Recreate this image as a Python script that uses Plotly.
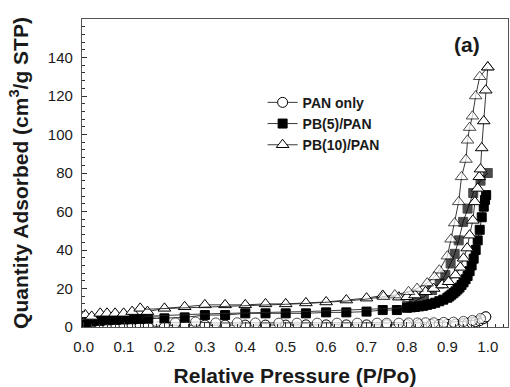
import plotly.graph_objects as go

# ---------------- data ----------------
pan_ads_x = [0.005, 0.02, 0.04, 0.06, 0.08, 0.10, 0.12, 0.14, 0.16, 0.20, 0.25, 0.30, 0.35, 0.40,
             0.45, 0.50, 0.55, 0.60, 0.65, 0.70, 0.75, 0.80, 0.83, 0.86, 0.88, 0.90, 0.92, 0.94,
             0.95, 0.96, 0.97, 0.98, 0.99, 0.995]
pan_ads_y = [0.3, 0.5, 0.6, 0.7, 0.7, 0.8, 0.8, 0.8, 0.9, 0.9, 0.9, 1.0, 1.0, 1.0,
             1.0, 1.0, 1.1, 1.1, 1.1, 1.1, 1.2, 1.2, 1.2, 1.3, 1.3, 1.4, 1.5, 1.7,
             1.9, 2.2, 2.7, 3.3, 4.3, 5.3]
pan_des_x = [0.995, 0.982, 0.962, 0.94, 0.915, 0.891, 0.866, 0.846, 0.826, 0.804, 0.78, 0.75,
             0.726, 0.677, 0.627, 0.578, 0.528, 0.483, 0.425, 0.38, 0.327, 0.277, 0.227, 0.18]
pan_des_y = [5.3, 4.4, 3.4, 2.9, 2.5, 2.4, 2.2, 2.2, 2.1, 2.1, 2.0, 2.0,
             2.0, 2.0, 2.0, 2.0, 2.0, 2.0, 2.1, 2.2, 2.1, 2.6, 2.2, 2.7]

pb5_ads_x = [0.005, 0.02, 0.04, 0.06, 0.08, 0.10, 0.12, 0.14, 0.16, 0.20, 0.25, 0.30, 0.35,
             0.40, 0.45, 0.50, 0.55, 0.60, 0.65, 0.70, 0.74, 0.775, 0.80, 0.81, 0.82, 0.83,
             0.84, 0.85, 0.86, 0.87, 0.88, 0.89, 0.90, 0.905, 0.91, 0.915, 0.92, 0.925, 0.93,
             0.935, 0.94, 0.945, 0.95, 0.955, 0.96, 0.965, 0.97, 0.975, 0.98, 0.985, 0.99,
             0.993, 0.996]
pb5_ads_y = [2.0, 2.8, 3.2, 3.5, 3.7, 3.9, 4.0, 4.2, 4.3, 4.5, 5.0, 6.2, 6.2,
             7.1, 7.1, 7.1, 7.1, 7.6, 7.6, 8.0, 8.8, 8.8, 10.0, 10.2, 10.4, 10.7,
             11.0, 11.5, 12.0, 12.6, 13.4, 14.2, 15.2, 15.9, 16.8, 17.6, 18.5, 19.5, 20.5,
             21.8, 23.2, 24.8, 26.5, 29.0, 32.0, 35.5, 40.0, 45.0, 50.5, 57.0, 62.5,
             66.0, 68.5]
pb5_des_x = [1.0, 0.982, 0.964, 0.95, 0.939, 0.928, 0.918, 0.908, 0.895, 0.881, 0.862, 0.842,
             0.817, 0.80, 0.775, 0.74, 0.70, 0.65, 0.60, 0.55, 0.50, 0.45, 0.40, 0.35, 0.30,
             0.25, 0.20, 0.15]
pb5_des_y = [80.0, 76.0, 69.6, 61.5, 54.6, 45.0, 38.0, 33.0, 27.0, 22.6, 19.2, 15.7,
             13.0, 11.0, 9.8, 9.5, 9.0, 8.6, 8.3, 8.0, 7.8, 7.6, 7.4, 7.0, 6.8,
             6.4, 6.0, 5.5]

pb10_ads_x = [0.004, 0.02, 0.041, 0.058, 0.078, 0.099, 0.12, 0.14, 0.158, 0.20, 0.25, 0.30,
              0.35, 0.40, 0.45, 0.50, 0.55, 0.60, 0.65, 0.70, 0.74, 0.78, 0.80, 0.82, 0.846,
              0.866, 0.887, 0.903, 0.92, 0.932, 0.94, 0.949, 0.955, 0.963, 0.968, 0.975,
              0.979, 0.982, 0.985, 0.99, 0.995, 1.0]
pb10_ads_y = [6.3, 5.5, 7.1, 7.1, 7.1, 7.1, 8.0, 9.7, 8.0, 9.7, 10.5, 11.5,
              11.5, 11.5, 12.0, 12.0, 12.5, 13.0, 14.0, 15.0, 16.4, 15.5, 15.7, 16.6, 18.3,
              20.0, 21.8, 23.5, 27.0, 31.0, 35.7, 41.0, 47.7, 55.4, 65.0, 72.0,
              78.0, 82.0, 93.0, 107.0, 123.0, 135.0]
pb10_des_x = [1.0, 0.98, 0.97, 0.962, 0.955, 0.95, 0.946, 0.935, 0.928, 0.918, 0.909, 0.90,
              0.88, 0.868, 0.85, 0.825, 0.804, 0.77, 0.742, 0.70, 0.65, 0.60, 0.55, 0.50,
              0.45, 0.40, 0.35, 0.30, 0.25, 0.20, 0.15]
pb10_des_y = [135.0, 130.0, 120.0, 109.5, 103.6, 97.0, 87.0, 78.0, 65.0, 54.0, 45.6, 36.8,
              29.5, 26.0, 22.8, 20.0, 18.3, 16.6, 15.7, 14.5, 13.5, 12.8, 12.2, 11.8,
              11.4, 11.0, 10.6, 10.3, 10.0, 9.6, 9.2]

x_ticks = [0.0, 0.1, 0.2, 0.3, 0.4, 0.5, 0.6, 0.7, 0.8, 0.9, 1.0]
y_ticks = [0, 20, 40, 60, 80, 100, 120, 140]

# ---------------- figure ----------------
fig = go.Figure()
LINE = dict(color="#222222", width=0.9)
MLINE = dict(color="black", width=1)


def add_series(name, xa, ya, xd, yd, symbol, fill, size, des_cut):
    fig.add_trace(go.Scatter(
        x=xa, y=ya, mode="lines+markers", name=name, legendgroup=name,
        line=LINE, marker=dict(symbol=symbol, size=size, color=fill, line=MLINE)))
    sizes = [size if x >= des_cut else 0 for x in xd]
    fig.add_trace(go.Scatter(
        x=xd, y=yd, mode="lines+markers", name=name, legendgroup=name, showlegend=False,
        line=LINE, marker=dict(symbol=symbol, size=sizes, color=fill, line=MLINE)))


add_series("PAN only", pan_ads_x, pan_ads_y, pan_des_x, pan_des_y, "circle", "white", 10, 0.0)
add_series("PB(5)/PAN", pb5_ads_x, pb5_ads_y, pb5_des_x, pb5_des_y, "square", "black", 9, 0.79)
add_series("PB(10)/PAN", pb10_ads_x, pb10_ads_y, pb10_des_x, pb10_des_y, "triangle-up", "white", 11, 0.73)

FONT = "Liberation Sans, Arial, sans-serif"
pw, ph = 510 - 82 - 2, 387 - 19 - 60
fig.update_layout(
    width=510, height=387,
    margin=dict(l=82, r=2, t=19, b=60),
    paper_bgcolor="white", plot_bgcolor="white",
    font=dict(family=FONT, color="#1a1a1a"),
    showlegend=True,
    legend=dict(x=0.424, y=0.78, xanchor="left", yanchor="top",
                font=dict(size=14, family=FONT, color="#1a1a1a", weight="bold"),
                bgcolor="rgba(0,0,0,0)", tracegroupgap=0, itemwidth=30),
    xaxis=dict(range=[-0.004, 1.05], tickmode="array", tickvals=x_ticks,
               ticktext=[f"{v:.1f}" for v in x_ticks], automargin=False,
               ticks="inside", ticklen=5, tickcolor="#333", tickwidth=1,
               minor=dict(ticks="inside", dtick=0.02, ticklen=3, tickcolor="#333"),
               showline=True, linecolor="#555", linewidth=1.2, mirror=True,
               showgrid=False, zeroline=False, ticklabelstandoff=6,
               tickfont=dict(size=15, family=FONT),
               title=dict(text="<b>Relative Pressure (P/Po)</b>", font=dict(size=21, family=FONT),
                          standoff=22)),
    yaxis=dict(range=[0, 160], tickmode="array", tickvals=y_ticks, automargin=False,
               ticks="inside", ticklen=5, tickcolor="#333", tickwidth=1,
               minor=dict(ticks="inside", dtick=4, ticklen=3, tickcolor="#333"),
               showline=True, linecolor="#555", linewidth=1.2, mirror=True,
               showgrid=False, zeroline=False, ticklabelstandoff=5,
               tickfont=dict(size=15, family=FONT),
               title=dict(text="<b>Quantity Adsorbed (cm<sup>3</sup>/g STP)</b>",
                          font=dict(size=21, family=FONT), standoff=13)),
    annotations=[dict(text="<b>(a)</b>", x=(467 - 82) / pw, y=(387 - 60 - 44) / ph,
                      xref="paper", yref="paper", xanchor="center", yanchor="middle",
                      showarrow=False, font=dict(size=21, family=FONT, color="#1a1a1a"))],
)

fig.write_html("out.html")
